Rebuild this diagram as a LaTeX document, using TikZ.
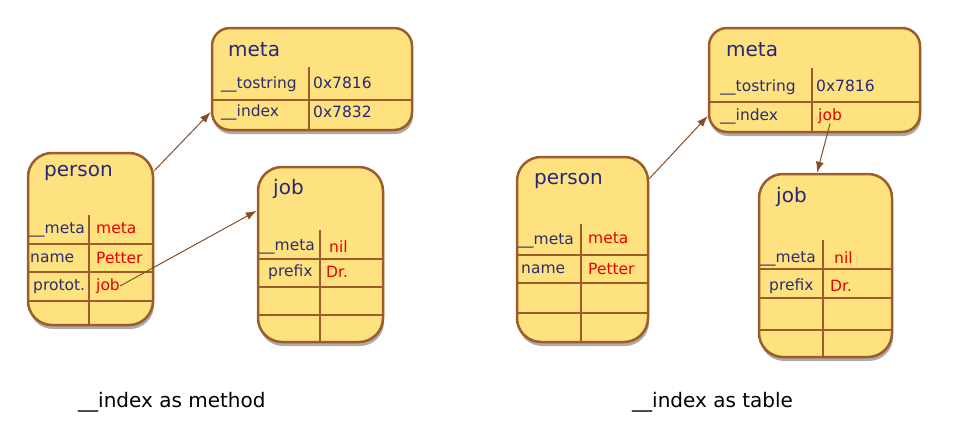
\documentclass[tikz,border=0pt]{standalone}
\usepackage{fontspec}
\setmainfont{DejaVu Sans}
\usetikzlibrary{shapes,arrows.meta,positioning,shadows}
\definecolor{boxfill}{RGB}{255,226,128}
\definecolor{boxline}{RGB}{158,92,42}
\definecolor{titleblue}{RGB}{38,38,122}
\definecolor{keyblue}{RGB}{45,45,105}
\definecolor{valred}{RGB}{235,0,0}
\tikzstyle{tbox} = [rectangle, draw=boxline, line width=2.5pt, fill=boxfill, rounded corners=24pt, inner sep=0pt, drop shadow={shadow xshift=1pt, shadow yshift=-4pt, fill=black!55, opacity=0.6}]
\tikzstyle{mbox} = [tbox, rounded corners=18pt]
\tikzstyle{title} = [anchor=west, inner sep=0pt, text=titleblue, font=\fontsize{20}{23}\selectfont]
\tikzstyle{key} = [anchor=west, inner sep=0pt, text=keyblue, font=\fontsize{15.5}{18}\selectfont]
\tikzstyle{val} = [key, text=valred]
\tikzstyle{cell} = [draw=boxline, line width=2pt]
\tikzstyle{line} = [draw=boxline!85!black, line width=1pt, -{Latex[length=11pt,width=8pt]}]
\tikzstyle{caption} = [anchor=west, inner sep=0pt, font=\fontsize{20}{23}\selectfont]
\begin{document}
\begin{tikzpicture}[x=1pt,y=-1pt]
    \useasboundingbox (0,0) rectangle (965,437);
    % __index as method
    \node [tbox, minimum width=125pt, minimum height=172pt] (person1) at (90.5,239) {};
    \node [mbox, minimum width=200pt, minimum height=102pt] (meta1) at (312,79) {};
    \node [tbox, minimum width=125pt, minimum height=175pt] (job1) at (320.5,254.5) {};
    \path [cell] (89,215) -- (89,325);
    \path [cell] (28,244) -- (153,244);
    \path [cell] (28,272) -- (153,272);
    \path [cell] (28,301) -- (153,301);
    \path [cell] (309,67) -- (309,130);
    \path [cell] (212,100) -- (412,100);
    \path [cell] (320,230) -- (320,342);
    \path [cell] (258,259) -- (383,259);
    \path [cell] (258,287) -- (383,287);
    \path [cell] (258,315) -- (383,315);
    \node [title] (person1t) at (44,173) {person};
    \node [key] (p1k1) at (29,230) {\_\_meta};
    \node [val] (p1v1) at (96,228) {meta};
    \node [key] (p1k2) at (30,258) {name};
    \node [val] (p1v2) at (96,258) {Petter};
    \node [key] (p1k3) at (33,287) {protot.};
    \node [val] (p1v3) at (96,286) {job};
    \node [title] (meta1t) at (228,50) {meta};
    \node [key] (m1k1) at (221,84) {\_\_tostring};
    \node [key, text=titleblue] (m1v1) at (313,83) {0x7816};
    \node [key] (m1k2) at (221,112) {\_\_index};
    \node [key, text=titleblue] (m1v2) at (313,112) {0x7832};
    \node [title] (job1t) at (273,189) {job};
    \node [key] (j1k1) at (259,247) {\_\_meta};
    \node [val] (j1v1) at (329,247) {nil};
    \node [key] (j1k2) at (268,272) {prefix};
    \node [val] (j1v2) at (326,272) {Dr.};
    \path [line] (person1.north east) ++(0,19) coordinate (p1out) (p1out) -- (meta1.west |- m1k2);
    \path [line] (p1v3.east) -- ([yshift=-45pt]job1.north west);
    \node [caption] (cap1) at (78,402) {\_\_index as method};
    % __index as table
    \node [tbox, minimum width=131pt, minimum height=185pt] (person2) at (582.5,249.5) {};
    \node [mbox, minimum width=211pt, minimum height=104pt] (meta2) at (814.5,80) {};
    \node [tbox, minimum width=133pt, minimum height=183pt] (job2) at (825.5,265.5) {};
    \path [cell] (581,224) -- (581,342);
    \path [cell] (517,255) -- (648,255);
    \path [cell] (517,283) -- (648,283);
    \path [cell] (517,313) -- (648,313);
    \path [cell] (812,68) -- (812,132);
    \path [cell] (709,102) -- (920,102);
    \path [cell] (823,240) -- (823,357);
    \path [cell] (759,269) -- (892,269);
    \path [cell] (759,298) -- (892,298);
    \path [cell] (759,330) -- (892,330);
    \node [title] (person2t) at (534,181) {person};
    \node [key] (p2k1) at (518,241) {\_\_meta};
    \node [val] (p2v1) at (588,238) {meta};
    \node [key] (p2k2) at (521,269) {name};
    \node [val] (p2v2) at (588,269) {Petter};
    \node [title] (meta2t) at (726,50) {meta};
    \node [key] (m2k1) at (720,87) {\_\_tostring};
    \node [key, text=titleblue] (m2v1) at (816,86) {0x7816};
    \node [key] (m2k2) at (720,116) {\_\_index};
    \node [val] (m2v2) at (818,116) {job};
    \node [title] (job2t) at (776,197) {job};
    \node [key] (j2k1) at (760,259) {\_\_meta};
    \node [val] (j2v1) at (834,258) {nil};
    \node [key] (j2k2) at (769,286) {prefix};
    \node [val] (j2v2) at (830,286) {Dr.};
    \path [line] (person2.north east) ++(0,23) coordinate (p2out) (p2out) -- (meta2.west |- m2k2);
    \path [line] (m2v2.south) -- (job2.north -| 817,0);
    \node [caption] (cap2) at (632,402) {\_\_index as table};
\end{tikzpicture}
\end{document}
